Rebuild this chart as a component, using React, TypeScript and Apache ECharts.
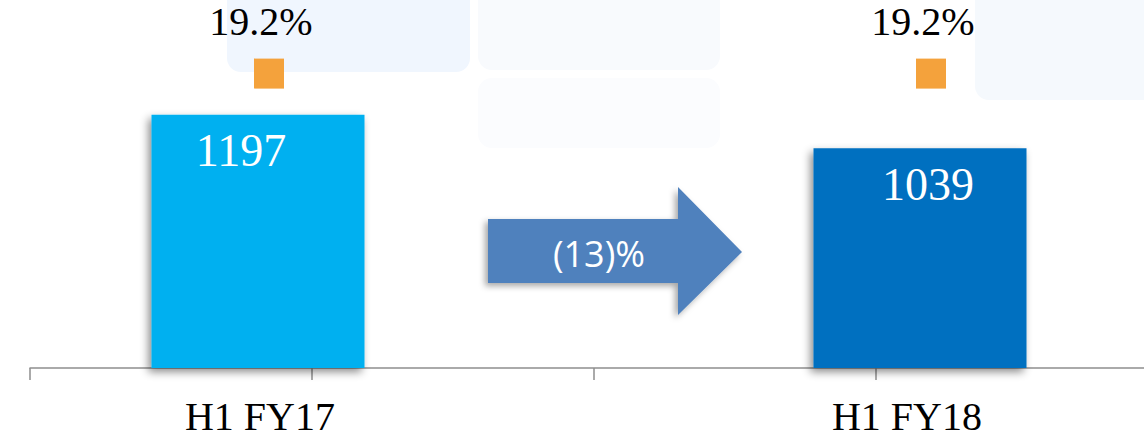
import React, { useEffect, useRef } from "react";
import * as echarts from "echarts";

const categories = ["H1 FY17", "H1 FY18"];
const values = [1197, 1039];
const margins = [19.2, 19.2];
const barColors = ["#00B0F0", "#0070C0"];
const valueLabelOffsets = [[-17, 0], [8, 0]];
const categoryLabelPadding = [[0, 0, 0, 4], [0, 26, 0, 0]];

const SERIF = "'Liberation Serif', 'Times New Roman', serif";

export default function App() {
  const ref = useRef<HTMLDivElement>(null);
  useEffect(() => {
    if (!ref.current) return;
    const chart = echarts.init(ref.current, undefined, { renderer: "svg" });
    const change = Math.round(((values[1] - values[0]) / values[0]) * 100);
    const changeText = change < 0 ? `(${Math.abs(change)})%` : `${change}%`;
    const option: any = {
      animation: false,
      backgroundColor: "#FFFFFF",
      grid: [
        { left: -73, width: 1324, top: 0, height: 368, outerBoundsMode: "none", containLabel: false },
        { left: 30, width: 1128, top: 0, height: 368, outerBoundsMode: "none", containLabel: false },
      ],
      xAxis: [
        {
          type: "category",
          gridIndex: 0,
          data: categories.map((c, i) => ({
            value: c,
            textStyle: { padding: categoryLabelPadding[i] },
          })),
          axisLine: { show: false },
          axisTick: { show: false },
          axisLabel: {
            color: "#000",
            fontFamily: SERIF,
            fontSize: 40,
            lineHeight: 40,
            margin: 28,
          },
        },
        {
          type: "value",
          gridIndex: 1,
          min: 0,
          max: 4,
          interval: 1,
          axisLine: { show: true, lineStyle: { color: "#8E8E8E", width: 1.5 } },
          axisTick: { show: true, length: 12, lineStyle: { color: "#8E8E8E", width: 1.5 } },
          axisLabel: { show: false },
          splitLine: { show: false },
        },
      ],
      yAxis: [
        { type: "value", gridIndex: 0, min: 0, max: 1740, show: false, splitLine: { show: false } },
        { type: "value", gridIndex: 0, min: 0, max: 24, show: false, splitLine: { show: false } },
        { type: "value", gridIndex: 1, min: 0, max: 1, show: false, splitLine: { show: false } },
      ],
      series: [
        {
          type: "bar",
          xAxisIndex: 0,
          yAxisIndex: 0,
          barWidth: 213,
          data: values.map((v, i) => ({
            value: v,
            itemStyle: { color: barColors[i] },
            label: { offset: valueLabelOffsets[i] },
          })),
          itemStyle: {
            shadowBlur: 8,
            shadowOffsetX: -3,
            shadowOffsetY: 4,
            shadowColor: "rgba(0,0,0,0.45)",
          },
          label: {
            show: true,
            position: "insideTop",
            distance: 13,
            color: "#FFFFFF",
            fontFamily: SERIF,
            fontSize: 46,
            lineHeight: 46,
          },
          z: 3,
        },
        {
          type: "line",
          xAxisIndex: 0,
          yAxisIndex: 1,
          data: margins,
          symbol: "rect",
          symbolSize: 30,
          symbolOffset: [11, 0],
          lineStyle: { width: 0, opacity: 0 },
          itemStyle: { color: "#F4A23C" },
          label: {
            show: true,
            position: "top",
            distance: 17,
            offset: [-8, 0],
            formatter: (p: any) => `${p.value.toFixed(1)}%`,
            color: "#000",
            fontFamily: SERIF,
            fontSize: 40,
            lineHeight: 40,
          },
          z: 4,
        },
      ],
      graphic: [
        {
          type: "rect",
          z: -10,
          shape: { x: 227, y: -20, width: 243, height: 92, r: 14 },
          style: { fill: "#F0F6FE" },
        },
        {
          type: "rect",
          z: -10,
          shape: { x: 478, y: -20, width: 242, height: 90, r: 14 },
          style: { fill: "#F8FAFD" },
        },
        {
          type: "rect",
          z: -10,
          shape: { x: 478, y: 78, width: 242, height: 70, r: 14 },
          style: { fill: "#FBFCFE" },
        },
        {
          type: "rect",
          z: -10,
          shape: { x: 975, y: -20, width: 200, height: 120, r: 14 },
          style: { fill: "#F5F9FD" },
        },
        {
          type: "group",
          z: 10,
          children: [
            {
              type: "polygon",
              shape: {
                points: [
                  [488, 219],
                  [678, 219],
                  [678, 187],
                  [742, 252],
                  [678, 315],
                  [678, 283],
                  [488, 283],
                ],
              },
              style: {
                fill: "#4F81BD",
                shadowBlur: 6,
                shadowOffsetX: -3,
                shadowOffsetY: 3,
                shadowColor: "rgba(0,0,0,0.35)",
              },
            },
            {
              type: "text",
              x: 599,
              y: 253,
              style: {
                text: changeText,
                fill: "#FFFFFF",
                font: "36px 'Open Sans', sans-serif",
                align: "center",
                verticalAlign: "middle",
              },
            },
          ],
        },
      ],
    };
    chart.setOption(option);
    return () => chart.dispose();
  }, []);
  return (
    <div
      ref={ref}
      style={{ position: "absolute", left: 0, top: 0, width: 1144, height: 443 }}
    />
  );
}
